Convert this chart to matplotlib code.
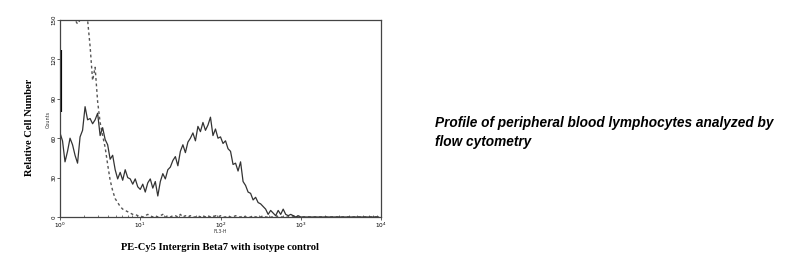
import numpy as np
import matplotlib
matplotlib.use("Agg")
import matplotlib.pyplot as plt

# FL3-H channel (0..1023 spans 4 log decades); histogram counts
channel_step = 8
beta7_counts = [64, 58, 42, 50, 60, 55, 47, 41, 61, 66,
                84, 74, 75, 71, 74, 79, 62, 68, 59, 55,
                44, 47, 36, 29, 34, 28, 36, 30, 29, 25,
                29, 23, 21, 25, 19, 26, 29, 22, 27, 16,
                27, 33, 29, 36, 38, 43, 46, 39, 50, 55,
                49, 57, 60, 64, 58, 69, 65, 72, 66, 70,
                76, 62, 67, 60, 61, 56, 58, 52, 50, 40,
                41, 35, 42, 27, 24, 19, 18, 13, 15, 11,
                10, 8, 6, 2, 5, 3, 1, 5, 2, 6,
                2, 1, 2, 1, 0, 1, 0, 0, 0, 0,
                0, 0, 0, 0, 0, 0, 0, 0, 0, 0,
                0, 0, 0, 0, 0, 0, 0, 0, 0, 0,
                0, 0, 0, 0, 0, 0, 0, 0]
isotype_counts = [150, 150, 150, 150, 150, 150, 150, 147, 150, 150,
                  150, 150, 130, 104, 114, 88, 72, 62, 53, 40,
                  28, 20, 14, 11, 8, 6, 5, 4, 3, 2,
                  2, 1, 1, 0, 1, 2, 1, 0, 1, 0,
                  1, 2, 0, 1, 0, 1, 1, 0, 2, 0,
                  1, 0, 1, 0, 0, 1, 0, 1, 0, 1,
                  0, 0, 1, 0, 1, 0, 0, 1, 0, 0,
                  1, 0, 0, 1, 0, 0, 0, 1, 0, 0,
                  0, 1, 0, 0, 0, 0, 1, 0, 0, 0,
                  0, 0, 0, 1, 0, 0, 0, 0, 0, 0,
                  0, 0, 0, 0, 0, 0, 0, 0, 0, 0,
                  0, 0, 0, 0, 0, 0, 0, 0, 0, 0,
                  0, 0, 0, 0, 0, 0, 0, 0]
first_channel_bar = [80, 127]

x_ticks = [0, 256, 512, 768, 1024]
x_tick_labels = ["$10^{0}$", "$10^{1}$", "$10^{2}$", "$10^{3}$", "$10^{4}$"]
y_ticks = [0, 30, 60, 90, 120, 150]

ch_beta7 = np.arange(len(beta7_counts)) * channel_step
ch_iso = np.arange(len(isotype_counts)) * channel_step

fig = plt.figure(figsize=(8.11, 2.63), dpi=100)
ax = fig.add_axes([60 / 811, 46 / 263, 321 / 811, 197 / 263])

ax.plot(ch_iso, isotype_counts, color="#555555", lw=1.0, ls=(0, (2, 2)))
ax.plot(ch_beta7, beta7_counts, color="#333333", lw=0.9)
ax.vlines(0, first_channel_bar[0], first_channel_bar[1], color="black", lw=3)

ax.set_xlim(0, 1024)
ax.set_ylim(0, 150)
ax.set_xticks(x_ticks)
ax.set_xticklabels(x_tick_labels, fontsize=4.2)
minor = [256 * d + 256 * np.log10(k) for d in range(4) for k in range(2, 10)]
ax.set_xticks(minor, minor=True)
ax.set_yticks(y_ticks)
ax.set_yticklabels([str(v) for v in y_ticks], fontsize=4, rotation=90, va="center")
ax.tick_params(axis="both", which="major", length=2, width=0.6, pad=0.5, color="#444444")
ax.tick_params(axis="x", which="minor", length=1.5, width=0.5, direction="in", color="#444444")
for s in ax.spines.values():
    s.set_color("#444444")
    s.set_linewidth(0.9)

fig.text(48 / 811, 1 - 119 / 263, "Counts", rotation=90, fontsize=3.5,
         ha="center", va="center", color="#333333")
fig.text(220 / 811, 1 - 231.5 / 263, "FL3-H", fontsize=3.3, ha="center", va="center",
         color="#333333")
fig.text(30 / 811, 1 - 127 / 263, "Relative Cell Number", rotation=90,
         fontsize=7.6, fontweight="bold", family="Liberation Serif",
         ha="center", va="center")
fig.text(220 / 811, 1 - 247 / 263, "PE-Cy5 Intergrin Beta7 with isotype control",
         fontsize=7.6, fontweight="bold", family="Liberation Serif",
         ha="center", va="center")
fig.text(435 / 811, 1 - 123 / 263, "Profile of peripheral blood lymphocytes analyzed by",
         fontsize=9.8, fontweight="bold", fontstyle="italic", family="Liberation Sans",
         ha="left", va="center")
fig.text(435 / 811, 1 - 142 / 263, "flow cytometry",
         fontsize=9.8, fontweight="bold", fontstyle="italic", family="Liberation Sans",
         ha="left", va="center")

fig.savefig("out.png", dpi=100)
